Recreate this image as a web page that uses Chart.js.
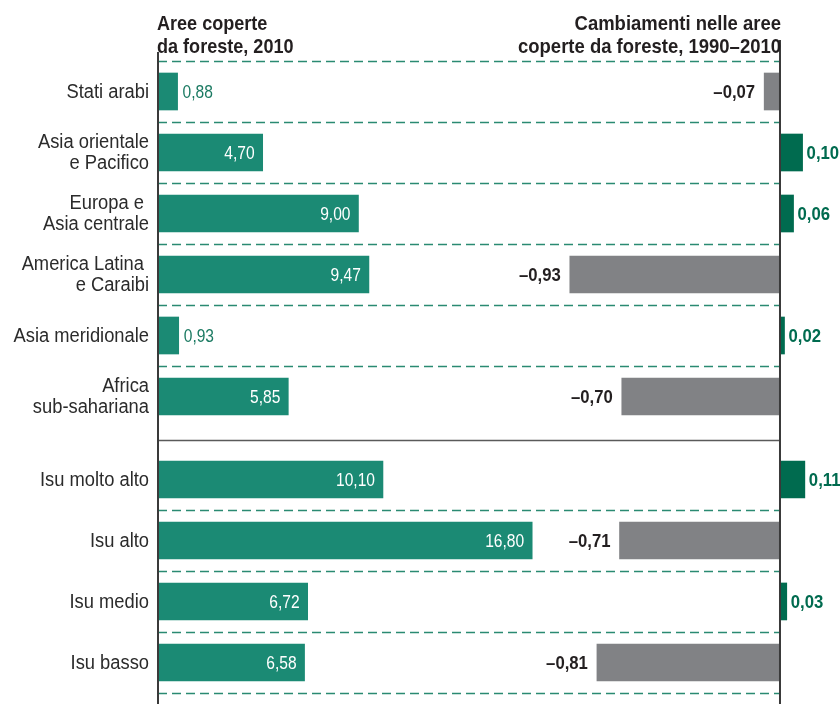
<!DOCTYPE html>
<html>
<head>
<meta charset="utf-8">
<script src="https://cdn.jsdelivr.net/npm/chart.js@4/dist/chart.umd.min.js"></script>
<style>
  body { margin: 0; background: #fff; }
  canvas { display: block; }
</style>
</head>
<body>
<canvas id="forestChart" width="840" height="704"></canvas>
<script>
// regions and ISU groups
const regions = [
  'Stati arabi',
  ['Asia orientale', 'e Pacifico'],
  ['Europa e ', 'Asia centrale'],
  ['America Latina ', 'e Caraibi'],
  'Asia meridionale',
  ['Africa', 'sub-sahariana'],
  'Isu molto alto',
  'Isu alto',
  'Isu medio',
  'Isu basso'
];
const forestArea = [0.88, 4.70, 9.00, 9.47, 0.93, 5.85, 10.10, 16.80, 6.72, 6.58];
const forestChange = [-0.07, 0.10, 0.06, -0.93, 0.02, -0.70, 0.11, -0.71, 0.03, -0.81];
const leftTitle = ['Aree coperte', 'da foreste, 2010'];
const rightTitle = ['Cambiamenti nelle aree', 'coperte da foreste, 1990\u20132010'];

const firstGroupSize = 6;
const groupGap = 0.36;      // extra space between regions and ISU groups (in rows)
const rowPos = regions.map((_, i) => i + 0.5 + (i >= firstGroupSize ? groupGap : 0));

const FONT = '"Liberation Sans", Arial, sans-serif';
const GREEN = '#1b8a74';
const DARK_GREEN = '#006b4f';
const GREY = '#818285';

const fmt = v => (v < 0 ? '\u2013' : '') + Math.abs(v).toFixed(2).replace('.', ',');

// no condensed face available: squeeze the text horizontally
function squeezedText(ctx, text, x, y, align, sx) {
  ctx.save();
  ctx.translate(x, y);
  ctx.scale(sx, 1);
  ctx.textAlign = align;
  ctx.fillText(text, 0, 0);
  ctx.restore();
}

const overlay = {
  id: 'overlay',
  beforeDatasetsDraw(chart) {
    const { ctx, chartArea, scales } = chart;
    const y = scales.y;
    const zeroR = scales.x2.getPixelForValue(0);
    ctx.save();
    // dashed row separators
    ctx.strokeStyle = '#2a8a72';
    ctx.lineWidth = 1.3;
    ctx.setLineDash([9, 5]);
    const bounds = [];
    for (let i = 0; i < firstGroupSize; i++) bounds.push(i);
    for (let i = firstGroupSize + 1; i <= regions.length; i++) bounds.push(i + groupGap);
    bounds.forEach(b => {
      const py = Math.round(y.getPixelForValue(b)) + 0.5;
      ctx.beginPath();
      ctx.moveTo(chartArea.left, py);
      ctx.lineTo(zeroR, py);
      ctx.stroke();
    });
    // solid separator between the two groups
    ctx.setLineDash([]);
    ctx.strokeStyle = '#5a5a5a';
    ctx.lineWidth = 1.5;
    const sy = Math.round(y.getPixelForValue(firstGroupSize + 0.21)) + 0.5;
    ctx.beginPath();
    ctx.moveTo(chartArea.left, sy);
    ctx.lineTo(zeroR, sy);
    ctx.stroke();
    ctx.restore();
  },
  afterDatasetsDraw(chart) {
    const { ctx, chartArea, scales } = chart;
    const zeroL = scales.x.getPixelForValue(0);
    const zeroR = scales.x2.getPixelForValue(0);
    ctx.save();

    // axis lines
    ctx.strokeStyle = '#3a3a3a';
    ctx.lineWidth = 2;
    ctx.beginPath();
    ctx.moveTo(zeroL, chartArea.top);
    ctx.lineTo(zeroL, chartArea.bottom);
    ctx.moveTo(zeroR, chartArea.top - 12);
    ctx.lineTo(zeroR, chartArea.bottom);
    ctx.stroke();

    // titles
    ctx.fillStyle = '#231f20';
    ctx.font = 'bold 21px ' + FONT;
    ctx.textBaseline = 'alphabetic';
    leftTitle.forEach((t, k) => squeezedText(ctx, t, zeroL - 1, 30 + k * 23, 'left', 0.86));
    rightTitle.forEach((t, k) => squeezedText(ctx, t, zeroR + 1, 30 + k * 23, 'right', 0.88));

    // category labels
    ctx.font = '19.5px ' + FONT;
    ctx.fillStyle = '#2b2b2b';
    ctx.textBaseline = 'middle';
    regions.forEach((r, i) => {
      const lines = Array.isArray(r) ? r : [r];
      const cy = scales.y.getPixelForValue(rowPos[i]) + 1;
      lines.forEach((t, k) => {
        squeezedText(ctx, t, zeroL - 9, cy + (k - (lines.length - 1) / 2) * 21, 'right', 0.94);
      });
    });

    // values of the left bars
    ctx.font = '19px ' + FONT;
    chart.getDatasetMeta(0).data.forEach((bar, i) => {
      const w = bar.x - bar.base;
      if (w > 50) {
        ctx.fillStyle = '#ffffff';
        squeezedText(ctx, fmt(forestArea[i]), bar.x - 8, bar.y + 1, 'right', 0.82);
      } else {
        ctx.fillStyle = '#1b7a62';
        squeezedText(ctx, fmt(forestArea[i]), bar.x + 5, bar.y + 1, 'left', 0.82);
      }
    });

    // values of the change bars
    ctx.font = 'bold 19px ' + FONT;
    chart.getDatasetMeta(1).data.forEach((bar, i) => {
      const v = forestChange[i];
      if (v < 0) {
        ctx.fillStyle = '#231f20';
        squeezedText(ctx, fmt(v), bar.x - 9, bar.y + 1, 'right', 0.88);
      } else {
        ctx.fillStyle = DARK_GREEN;
        squeezedText(ctx, fmt(v), bar.x + 4, bar.y + 1, 'left', 0.88);
      }
    });
    ctx.restore();
  }
};

new Chart(document.getElementById('forestChart'), {
  type: 'bar',
  data: {
    datasets: [
      {
        label: 'Aree coperte da foreste, 2010',
        data: forestArea.map((v, i) => ({ x: v, y: rowPos[i] })),
        backgroundColor: GREEN,
        xAxisID: 'x',
        barThickness: 37
      },
      {
        label: 'Cambiamenti 1990-2010',
        data: forestChange.map((v, i) => ({ x: v, y: rowPos[i] })),
        backgroundColor: forestChange.map(v => v < 0 ? GREY : DARK_GREEN),
        xAxisID: 'x2',
        barThickness: 37
      }
    ]
  },
  options: {
    indexAxis: 'y',
    responsive: false,
    animation: false,
    grouped: false,
    layout: { padding: { left: 158, top: 52, right: 0, bottom: 0 } },
    plugins: {
      legend: { display: false },
      tooltip: { enabled: false }
    },
    scales: {
      y: {
        type: 'linear',
        reverse: true,
        offset: false,
        min: -9 / 61,
        max: 643 / 61,
        display: false
      },
      x: {
        type: 'linear',
        min: 0,
        max: 30.62,
        display: false
      },
      x2: {
        type: 'linear',
        min: -2.752,
        max: 0.2655,
        display: false
      }
    }
  },
  plugins: [overlay]
});
</script>
</body>
</html>
